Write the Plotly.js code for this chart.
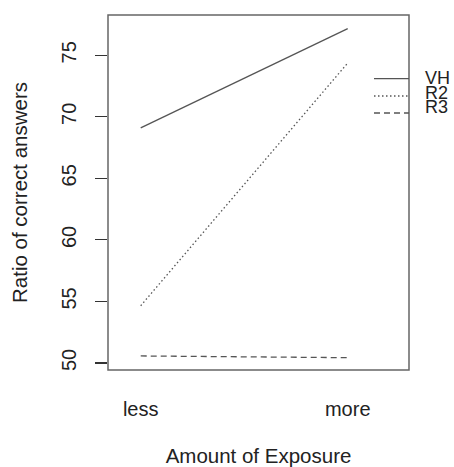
<!DOCTYPE html>
<html>
<head>
<meta charset="utf-8">
<script src="https://cdn.plot.ly/plotly-3.0.1.min.js"></script>
<style>html,body{margin:0;padding:0;background:#fff;}#chart{width:454px;height:467px;}</style>
</head>
<body>
<div id="chart"></div>
<script>
const categories = ['less', 'more'];
const seriesNames = ['VH', 'R2', 'R3'];
const vhValues = [69.1, 77.17];
const r2Values = [54.65, 74.37];
const r3Values = [50.57, 50.43];
const yTickVals = [50, 55, 60, 65, 70, 75];
const yTickText = ['50', '55', '60', '65', '70', '75'];

const seriesValues = [vhValues, r2Values, r3Values];
const dashes = ['solid', '1.5px,2.5px', '6px,4px'];
const lineColor = '#555';
const textColor = '#222';
const fontFam = '"Liberation Sans", Arial, Helvetica, sans-serif';

const traces = seriesNames.map((name, i) => ({
  type: 'scatter', mode: 'lines', name: name,
  x: categories, y: seriesValues[i],
  line: {color: lineColor, width: 1.3, dash: dashes[i]},
  showlegend: false, hoverinfo: 'skip'
}));

// legend drawn as shapes + annotations in paper coords
const plotTop = 15, plotH = 355, plotL = 108, plotW = 301;
const lineYs = [78.7, 96.0, 113.0];
const textYs = [78.3, 92.6, 106.9];
const toPaperY = py => 1 - (py - plotTop) / plotH;
const shapes = [{type: 'rect', xref: 'paper', yref: 'paper', x0: 0, x1: 1, y0: 0, y1: 1,
  line: {color: '#666', width: 1.5}, fillcolor: 'rgba(0,0,0,0)'}];
const annotations = [];
seriesNames.forEach((name, i) => {
  const yp = toPaperY(lineYs[i]);
  shapes.push({type: 'line', xref: 'paper', yref: 'paper',
    x0: (374 - plotL) / plotW, x1: 1, y0: yp, y1: yp,
    line: {color: lineColor, width: 1.3, dash: dashes[i]}});
  annotations.push({xref: 'paper', yref: 'paper', x: (423 - plotL) / plotW, y: toPaperY(textYs[i]),
    xanchor: 'left', yanchor: 'middle', text: name, showarrow: false,
    font: {family: fontFam, size: 18, color: textColor}});
});

const layout = {
  width: 454, height: 467,
  margin: {l: 108, r: 45, t: 15, b: 97, pad: 0},
  paper_bgcolor: '#fff', plot_bgcolor: '#fff',
  font: {family: fontFam, size: 20, color: textColor},
  showlegend: false,
  xaxis: {
    type: 'category', range: [-0.158, 1.296],
    showgrid: false, zeroline: false, showline: false,
    ticks: '', ticklabelstandoff: 25,
    tickfont: {family: fontFam, size: 20, color: textColor},
    title: {text: 'Amount of Exposure', standoff: 39, font: {family: fontFam, size: 20.5, color: textColor}}
  },
  yaxis: {
    range: [49.43, 78.27],
    tickvals: yTickVals, ticktext: yTickText, tickangle: -90,
    showgrid: false, zeroline: false, showline: false,
    ticks: 'outside', ticklen: 12, tickwidth: 1.2, tickcolor: '#333',
    ticklabelstandoff: 11,
    tickfont: {family: fontFam, size: 20, color: textColor},
    title: {text: 'Ratio of correct answers', standoff: 24, font: {family: fontFam, size: 20.5, color: textColor}}
  },
  shapes: shapes,
  annotations: annotations
};

Plotly.newPlot('chart', traces, layout, {displayModeBar: false, staticPlot: true});
</script>
</body>
</html>
